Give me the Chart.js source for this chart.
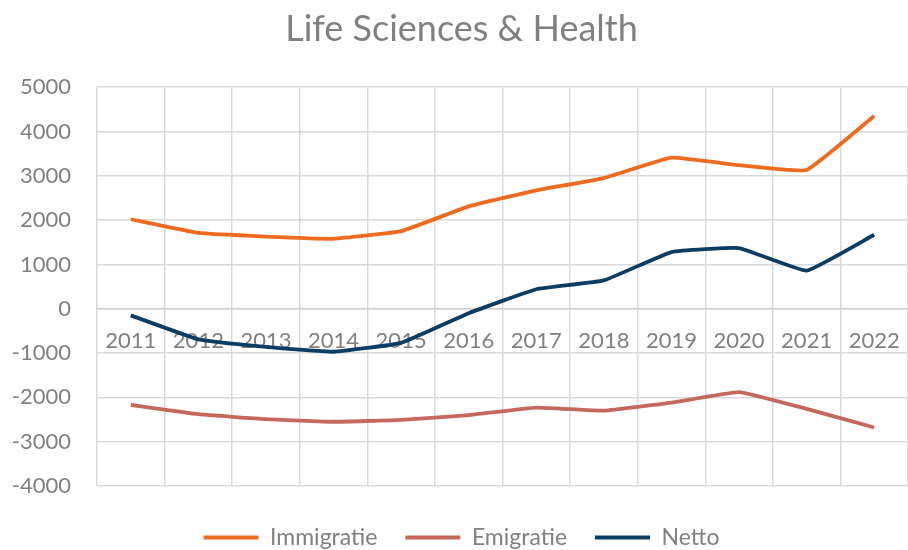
<!DOCTYPE html>
<html>
<head>
<meta charset="utf-8">
<script src="https://cdn.jsdelivr.net/npm/chart.js@4"></script>
<style>
  html, body { margin: 0; padding: 0; background: #fff; }
  #wrap { width: 908px; height: 550px; }
</style>
</head>
<body>
<div id="wrap"><canvas id="lifeSciences"></canvas></div>
<script>
// Life Sciences & Health - migration per year
const years = ['2011', '2012', '2013', '2014', '2015', '2016', '2017', '2018', '2019', '2020', '2021', '2022'];
const immigratie = [2020, 1710, 1630, 1580, 1750, 2310, 2670, 2950, 3410, 3240, 3130, 4350];
const emigratie = [-2170, -2380, -2490, -2550, -2510, -2400, -2230, -2300, -2120, -1880, -2260, -2680];
const netto = [-150, -690, -860, -970, -770, -100, 440, 640, 1280, 1370, 860, 1670];
const yTicks = [-4000, -3000, -2000, -1000, 0, 1000, 2000, 3000, 4000, 5000];

const grey = '#808080';
const gridGrey = '#d9d9d9';
const font = 'Lato';

const ctx = document.getElementById('lifeSciences').getContext('2d');
const lifeChart = new Chart(ctx, {
    type: 'line',
    data: {
        labels: years,
        datasets: [
            {
                label: 'Immigratie',
                data: immigratie,
                borderColor: '#ec6b1e',
                backgroundColor: '#ec6b1e',
                borderWidth: 3.8,
                pointRadius: 0,
                tension: 0.1
            },
            {
                label: 'Emigratie',
                data: emigratie,
                borderColor: '#c4685c',
                backgroundColor: '#c4685c',
                borderWidth: 3.8,
                pointRadius: 0,
                tension: 0.1
            },
            {
                label: 'Netto',
                data: netto,
                borderColor: '#0b3d64',
                backgroundColor: '#0b3d64',
                borderWidth: 3.8,
                pointRadius: 0,
                tension: 0.1
            }
        ]
    },
    options: {
        responsive: true,
        maintainAspectRatio: false,
        animation: false,
        layout: {
            // legend sits partly below the bottom edge, plot runs to the right edge
            padding: { left: 12, right: -3, top: 0, bottom: -9 }
        },
        plugins: {
            title: {
                display: true,
                text: 'Life Sciences & Health',
                color: grey,
                font: { family: font, size: 36, weight: 'normal' },
                padding: { top: 8, bottom: 36 }
            },
            legend: {
                position: 'bottom',
                title: {
                    // empty title only used as spacer above the items
                    display: true,
                    text: ' ',
                    font: { size: 10, lineHeight: 1 },
                    padding: 1
                },
                labels: {
                    color: grey,
                    font: { family: font, size: 23 },
                    usePointStyle: true,
                    pointStyle: 'line',
                    pointStyleWidth: 55,
                    padding: 28
                }
            },
            tooltip: { enabled: false }
        },
        scales: {
            x: {
                position: { y: 0 },
                offset: true,
                grid: {
                    offset: true,
                    color: gridGrey,
                    lineWidth: 1.5,
                    drawTicks: false
                },
                border: { color: '#d0d0d0', width: 1.5 },
                ticks: {
                    color: grey,
                    // tall line height pushes the year labels below the zero line
                    font: { family: font, size: 22, lineHeight: '64px' },
                    padding: 0,
                    maxRotation: 0,
                    autoSkip: false
                }
            },
            y: {
                min: -4000,
                max: 5000,
                afterBuildTicks: function(axis) {
                    axis.ticks = yTicks.map(v => ({ value: v }));
                },
                afterFit: function(axis) {
                    // only one padding gap between labels and plot, keep plot at x=97
                    axis.width = 85;
                },
                grid: {
                    color: gridGrey,
                    lineWidth: 1.5,
                    drawTicks: false
                },
                border: { display: false },
                ticks: {
                    color: grey,
                    font: { family: font, size: 22 },
                    padding: 26,
                    callback: function(value) {
                        return String(value);
                    }
                }
            }
        }
    }
});
</script>
</body>
</html>
